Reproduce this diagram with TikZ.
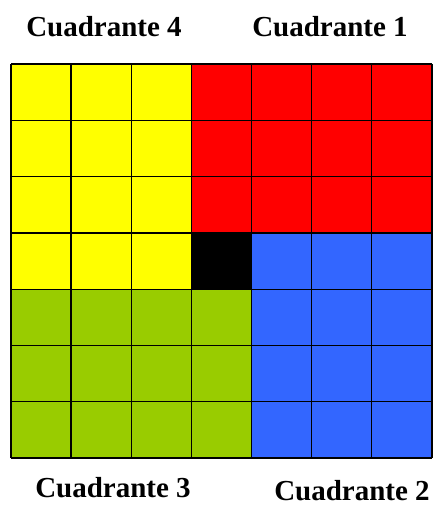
\documentclass[tikz,border=0pt]{standalone}
\usepackage{fontspec}
\setmainfont{Liberation Serif}
\usepackage{xcolor}
\usetikzlibrary{calc, positioning}

\definecolor{amarillo}{HTML}{FFFF00}
\definecolor{rojo}{HTML}{FF0000}
\definecolor{azul}{HTML}{3366FF}
\definecolor{verde}{HTML}{99CC00}

\begin{document}
\begin{tikzpicture}[x=1pt, y=-1pt]

    % =================================================================
    % 1. MEDIDAS DE LA CUADRICULA 7x7
    % =================================================================
    \def\xo{11}     % borde izquierdo
    \def\yo{64}     % borde superior
    \def\cw{60.14}  % ancho de cada casilla
    \def\ch{56.29}  % alto de cada casilla

    \useasboundingbox (0,0) rectangle (435,505);

    % =================================================================
    % 2. COLOREAR LOS CUADRANTES
    % =================================================================
    % Cuadrante 4: amarillo (3 columnas, 4 filas)
    \fill[amarillo] (\xo,\yo) rectangle (\xo+3*\cw,\yo+4*\ch);
    % Cuadrante 1: rojo (4 columnas, 3 filas)
    \fill[rojo] (\xo+3*\cw,\yo) rectangle (\xo+7*\cw,\yo+3*\ch);
    % Cuadrante 2: azul (3 columnas, 4 filas)
    \fill[azul] (\xo+4*\cw,\yo+3*\ch) rectangle (\xo+7*\cw,\yo+7*\ch);
    % Cuadrante 3: verde (4 columnas, 3 filas)
    \fill[verde] (\xo,\yo+4*\ch) rectangle (\xo+4*\cw,\yo+7*\ch);
    % Casilla central negra
    \fill[black] (\xo+3*\cw,\yo+3*\ch) rectangle (\xo+4*\cw,\yo+4*\ch);

    % =================================================================
    % 3. LINEAS DE LA CUADRICULA
    % =================================================================
    \foreach \i in {0,...,7} {
        \draw[line width=1.3pt] (\xo+\i*\cw,\yo) -- (\xo+\i*\cw,\yo+7*\ch);
        \draw[line width=1.3pt] (\xo,\yo+\i*\ch) -- (\xo+7*\cw,\yo+\i*\ch);
    }

    % =================================================================
    % 4. NOMBRES DE LOS CUADRANTES
    % =================================================================
    \tikzset{cuadrante/.style={anchor=base, inner sep=0pt,
        font=\fontsize{29}{35}\selectfont\bfseries}}
    \node[cuadrante] (c4) at (104,37) {Cuadrante 4};
    \node[cuadrante] (c1) at (330,37) {Cuadrante 1};
    \node[cuadrante] (c3) at (113,497) {Cuadrante 3};
    \node[cuadrante] (c2) at (352,500) {Cuadrante 2};

\end{tikzpicture}
\end{document}
